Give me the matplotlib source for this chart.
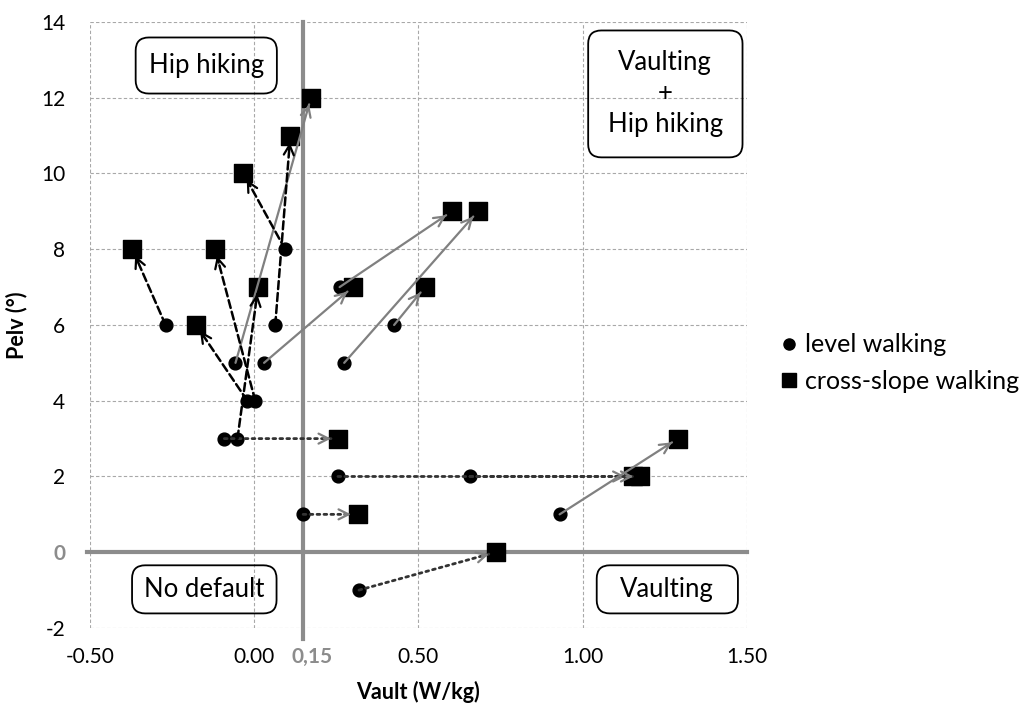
import numpy as np
import matplotlib
matplotlib.use("Agg")
import matplotlib.pyplot as plt
from matplotlib.patches import FancyBboxPatch
from matplotlib.lines import Line2D

plt.rcParams['font.family'] = ['Lato', 'DejaVu Sans']
plt.rcParams['axes.unicode_minus'] = False

# --------------------------------------------
# data: each level walking point -> its cross-slope point
# --------------------------------------------
level_x = [-0.27, -0.057, -0.021, 0.003, -0.091, -0.051, 0.03, 0.064, 0.094,
           0.26, 0.274, 0.426, 0.255, 0.657, 0.149, 0.93, 0.319]
level_y = [6, 5, 4, 4, 3, 3, 5, 6, 8, 7, 5, 6, 2, 2, 1, 1, -1]

cross_x = [-0.371, 0.173, -0.177, -0.119, 0.255, 0.012, 0.30, 0.11, -0.033,
           0.602, 0.681, 0.52, 1.152, 1.176, 0.316, 1.29, 0.735]
cross_y = [8, 12, 6, 8, 3, 7, 7, 11, 10, 9, 9, 7, 2, 2, 1, 3, 0]

link = ['dashed', 'solid', 'dashed', 'dashed', 'dotted', 'dashed', 'solid', 'dashed',
        'dashed', 'solid', 'solid', 'solid', 'dotted', 'dotted', 'dotted', 'solid', 'dotted']

x_ticks = [-0.5, 0.0, 0.5, 1.0, 1.5]
y_ticks = [-2, 0, 2, 4, 6, 8, 10, 12, 14]
threshold_x = 0.15

# quadrant boxes: label, center x, center y, width, height (data units)
boxes = [("Hip hiking", -0.146, 12.85, 0.43, 1.48),
         ("Vaulting\n+\nHip hiking", 1.252, 12.1, 0.47, 3.35),
         ("No default", -0.152, -0.98, 0.44, 1.27),
         ("Vaulting", 1.258, -0.98, 0.43, 1.27)]

# --------------------------------------------
# figure
# --------------------------------------------
fig, ax = plt.subplots(figsize=(10.23, 7.08), dpi=100)
fig.subplots_adjust(left=0.088, right=0.730, bottom=0.113, top=0.969)

ax.set_xlim(-0.5, 1.5)
ax.set_ylim(-2, 14)
ax.set_xticks(x_ticks)
ax.set_yticks(y_ticks)
ax.set_xticklabels([f"{v:.2f}" for v in x_ticks])
ax.set_yticklabels([str(v) for v in y_ticks])
ax.tick_params(length=0, labelsize=15, pad=14)
ax.tick_params(axis='y', pad=18)
for s in ax.spines.values():
    s.set_visible(False)
ax.grid(True, color='#a8a8a8', linestyle=(0, (3, 2)), linewidth=0.8)
ax.set_axisbelow(True)

# gray zero tick
for lab, v in zip(ax.get_yticklabels(), y_ticks):
    if v == 0:
        lab.set_color('#8c8c8c')
        lab.set_fontweight('bold')
ax.annotate("0,15", xy=(0.175, 0), xycoords=('data', 'axes fraction'),
            xytext=(0, -14), textcoords='offset points', ha='center', va='top',
            fontsize=15, fontweight='bold', color='#8c8c8c')

ax.set_xlabel("Vault (W/kg)", fontsize=15.5, fontweight='bold', labelpad=10)
ax.set_ylabel("Pelv (°)", fontsize=15.5, fontweight='bold', labelpad=10)

# thick reference lines
ax.plot([-0.51, 1.5], [0, 0], color='#8c8c8c', lw=3.0, zorder=2, clip_on=False)
ax.plot([threshold_x, threshold_x], [-2.3, 14], color='#8c8c8c', lw=3.0, zorder=2, clip_on=False)

# quadrant boxes
asp = (ax.transData.transform((0, 1))[1] - ax.transData.transform((0, 0))[1]) / \
      (ax.transData.transform((1, 0))[0] - ax.transData.transform((0, 0))[0])
for txt, cx, cy, w, h in boxes:
    p = FancyBboxPatch((cx - w / 2, cy - h / 2), w, h,
                       boxstyle="round,pad=0,rounding_size=0.04",
                       mutation_aspect=1 / asp, facecolor='none',
                       edgecolor='black', lw=1.3, zorder=3)
    ax.add_patch(p)
    ax.text(cx, cy, txt, ha='center', va='center', fontsize=18.5, zorder=3,
            linespacing=1.3)

# markers
ax.scatter(level_x, level_y, s=85, marker='o', color='black', zorder=3, label='level walking')
ax.scatter(cross_x, cross_y, s=150, marker='s', color='black', zorder=3, label='cross-slope walking')

# arrows
styles = {'dashed': dict(ls=(0, (3.2, 1.6)), shaft='black', head='black', lw=1.8),
          'solid': dict(ls='-', shaft='#808080', head='#808080', lw=1.6),
          'dotted': dict(ls=(0, (1.0, 1.5)), shaft='#333333', head='#808080', lw=2.0)}
for x0, y0, x1, y1, kind in zip(level_x, level_y, cross_x, cross_y, link):
    st = styles[kind]
    ax.annotate('', xy=(x1, y1), xytext=(x0, y0),
                arrowprops=dict(arrowstyle='-', color=st['shaft'], lw=st['lw'],
                                ls=st['ls'], shrinkA=0, shrinkB=5), zorder=4)
    p0 = ax.transData.transform((x0, y0))
    p1 = ax.transData.transform((x1, y1))
    u = (p1 - p0) / np.hypot(*(p1 - p0))
    ax.annotate('', xy=(x1, y1), xytext=(-u[0] * 14, -u[1] * 14), textcoords='offset pixels',
                arrowprops=dict(arrowstyle='->', color=st['head'], lw=1.6,
                                mutation_scale=18, shrinkA=0, shrinkB=5), zorder=4)

handles = [Line2D([], [], marker='o', ls='', color='black', markersize=8),
           Line2D([], [], marker='s', ls='', color='black', markersize=10)]
fig.legend(handles, ['level walking', 'cross-slope walking'], loc='center left',
           bbox_to_anchor=(0.742, 0.487), frameon=False, fontsize=18,
           handlelength=0.6, handletextpad=0.35, labelspacing=0.55)

fig.savefig("out.png", dpi=100)
